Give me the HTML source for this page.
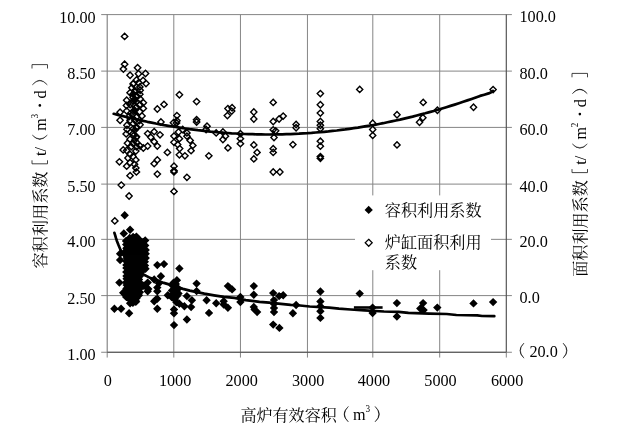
<!DOCTYPE html><html><head><meta charset="utf-8"><title>chart</title><style>html,body{margin:0;padding:0;background:#fff}svg{display:block;will-change:transform;opacity:0.999}</style></head><body><svg width="622" height="432" viewBox="0 0 622 432">
<rect width="622" height="432" fill="#fff"/>
<path d="M173.80 14.60V357.55M240.45 14.60V357.55M307.45 14.60V357.55M372.80 14.60V357.55M439.70 14.60V357.55M107.20 352.25v5.3M506.30 352.25v5.3M101.20 14.60H511.90M101.20 71.10H511.90M101.20 127.40H511.90M101.20 184.10H511.90M101.20 239.35H511.90M101.20 295.60H511.90M101.20 352.25H511.90" stroke="#858585" stroke-width="1" fill="none"/>
<path d="M107.20 14.60V352.25" stroke="#7c7c7c" stroke-width="1.1" fill="none"/>
<path d="M506.30 14.60V352.25M107.20 352.25H506.30" stroke="#505050" stroke-width="1.15" fill="none"/>
<path fill="#fff" stroke="#000" stroke-width="1.4" d="M133.3 80.3L136.5 83.5L133.3 86.7L130.2 83.5ZM138.6 79.6L141.8 82.8L138.6 86.0L135.4 82.8ZM133.2 94.3L136.3 97.5L133.2 100.7L130.0 97.5ZM139.8 91.0L143.0 94.2L139.8 97.4L136.7 94.2ZM133.0 97.6L136.2 100.8L133.0 104.0L129.8 100.8ZM139.9 101.3L143.1 104.5L139.9 107.7L136.8 104.5ZM126.5 102.3L129.7 105.5L126.5 108.7L123.3 105.5ZM133.2 108.0L136.3 111.2L133.2 114.4L130.0 111.2ZM139.6 108.6L142.8 111.8L139.6 115.0L136.4 111.8ZM128.9 113.6L132.1 116.8L128.9 120.0L125.8 116.8ZM139.5 117.4L142.7 120.6L139.5 123.8L136.3 120.6ZM133.3 120.4L136.5 123.6L133.3 126.8L130.2 123.6ZM133.2 125.8L136.3 128.9L133.2 132.1L130.0 128.9ZM140.1 121.5L143.2 124.7L140.1 127.9L136.9 124.7ZM127.0 126.2L130.2 129.3L127.0 132.5L123.8 129.3ZM126.2 130.8L129.3 133.9L126.2 137.1L123.0 133.9ZM136.2 134.3L139.3 137.5L136.2 140.7L133.0 137.5ZM133.0 140.4L136.2 143.6L133.0 146.8L129.8 143.6ZM127.5 140.0L130.7 143.2L127.5 146.3L124.3 143.2ZM133.0 153.3L136.2 156.5L133.0 159.7L129.8 156.5ZM133.2 80.8L136.3 84.0L133.2 87.2L130.0 84.0ZM136.5 84.1L139.7 87.3L136.5 90.5L133.3 87.3ZM134.8 87.4L138.0 90.6L134.8 93.8L131.7 90.6ZM133.2 90.7L136.3 93.9L133.2 97.0L130.0 93.9ZM136.5 94.0L139.7 97.2L136.5 100.3L133.3 97.2ZM134.8 97.3L138.0 100.5L134.8 103.6L131.7 100.5ZM133.2 100.6L136.3 103.8L133.2 106.9L130.0 103.8ZM136.5 103.9L139.7 107.1L136.5 110.2L133.3 107.1ZM134.8 107.2L138.0 110.4L134.8 113.5L131.7 110.4ZM133.2 110.5L136.3 113.7L133.2 116.8L130.0 113.7ZM136.5 113.8L139.7 117.0L136.5 120.1L133.3 117.0ZM134.8 117.1L138.0 120.3L134.8 123.4L131.7 120.3ZM133.2 120.4L136.3 123.6L133.2 126.7L130.0 123.6ZM136.5 123.7L139.7 126.9L136.5 130.0L133.3 126.9ZM134.8 127.0L138.0 130.2L134.8 133.3L131.7 130.2ZM133.2 130.3L136.3 133.5L133.2 136.6L130.0 133.5ZM136.5 133.6L139.7 136.8L136.5 139.9L133.3 136.8ZM134.8 136.9L138.0 140.1L134.8 143.2L131.7 140.1ZM133.2 140.2L136.3 143.4L133.2 146.6L130.0 143.4ZM136.5 143.6L139.7 146.7L136.5 149.9L133.3 146.7ZM124.6 33.2L127.8 36.4L124.6 39.5L121.4 36.4ZM124.6 61.1L127.8 64.3L124.6 67.5L121.4 64.3ZM123.4 65.8L126.6 69.0L123.4 72.2L120.2 69.0ZM137.6 64.5L140.8 67.7L137.6 70.9L134.4 67.7ZM130.1 72.0L133.2 75.2L130.1 78.4L126.9 75.2ZM145.5 70.3L148.7 73.5L145.5 76.7L142.3 73.5ZM138.5 70.6L141.7 73.8L138.5 77.0L135.3 73.8ZM136.5 76.8L139.7 79.9L136.5 83.1L133.3 79.9ZM143.1 77.3L146.2 80.5L143.1 83.7L139.9 80.5ZM146.0 80.3L149.2 83.5L146.0 86.7L142.8 83.5ZM131.8 84.5L135.0 87.7L131.8 90.9L128.7 87.7ZM139.8 83.8L143.0 86.9L139.8 90.1L136.7 86.9ZM140.2 87.0L143.3 90.2L140.2 93.4L137.0 90.2ZM135.5 88.2L138.7 91.4L135.5 94.6L132.3 91.4ZM130.1 89.5L133.2 92.7L130.1 95.9L126.9 92.7ZM136.4 92.6L139.6 95.8L136.4 99.0L133.2 95.8ZM140.2 95.8L143.3 99.0L140.2 102.2L137.0 99.0ZM126.7 97.0L129.8 100.2L126.7 103.4L123.5 100.2ZM136.4 98.9L139.6 102.1L136.4 105.2L133.2 102.1ZM143.3 99.5L146.5 102.7L143.3 105.9L140.2 102.7ZM130.1 101.4L133.2 104.6L130.1 107.8L126.9 104.6ZM135.5 104.6L138.7 107.8L135.5 111.0L132.3 107.8ZM143.3 105.2L146.5 108.4L143.3 111.6L140.2 108.4ZM120.1 109.0L123.2 112.2L120.1 115.4L116.9 112.2ZM126.7 107.8L129.8 110.9L126.7 114.1L123.5 110.9ZM132.4 111.5L135.6 114.7L132.4 117.9L129.2 114.7ZM142.0 112.8L145.2 115.9L142.0 119.1L138.8 115.9ZM136.4 114.0L139.6 117.2L136.4 120.4L133.2 117.2ZM120.1 117.1L123.2 120.3L120.1 123.5L116.9 120.3ZM130.1 117.1L133.2 120.3L130.1 123.5L126.9 120.3ZM157.3 105.8L160.5 109.0L157.3 112.2L154.2 109.0ZM164.0 101.2L167.2 104.4L164.0 107.6L160.8 104.4ZM126.9 122.1L130.1 125.3L126.9 128.4L123.8 125.3ZM136.5 125.0L139.7 128.2L136.5 131.3L133.3 128.2ZM130.7 129.2L133.8 132.3L130.7 135.5L127.5 132.3ZM133.5 132.7L136.7 135.8L133.5 139.0L130.3 135.8ZM130.1 136.0L133.2 139.2L130.1 142.3L126.9 139.2ZM136.4 139.2L139.6 142.3L136.4 145.5L133.2 142.3ZM140.2 142.9L143.3 146.1L140.2 149.2L137.0 146.1ZM131.4 143.5L134.6 146.7L131.4 149.8L128.2 146.7ZM123.2 146.8L126.4 149.9L123.2 153.1L120.0 149.9ZM126.7 147.3L129.8 150.5L126.7 153.7L123.5 150.5ZM135.8 147.9L139.0 151.1L135.8 154.2L132.7 151.1ZM130.1 151.2L133.2 154.3L130.1 157.5L126.9 154.3ZM127.9 154.8L131.1 158.0L127.9 161.2L124.8 158.0ZM135.8 156.8L139.0 159.9L135.8 163.1L132.7 159.9ZM119.4 158.7L122.6 161.8L119.4 165.0L116.2 161.8ZM130.1 159.5L133.2 162.7L130.1 165.8L126.9 162.7ZM126.7 163.0L129.8 166.2L126.7 169.3L123.5 166.2ZM134.5 161.2L137.7 164.3L134.5 167.5L131.3 164.3ZM135.8 164.8L139.0 168.0L135.8 171.2L132.7 168.0ZM147.7 130.4L150.8 133.6L147.7 136.8L144.5 133.6ZM154.2 128.5L157.3 131.7L154.2 134.8L151.0 131.7ZM160.0 131.7L163.2 134.8L160.0 138.0L156.8 134.8ZM150.8 134.2L154.0 137.3L150.8 140.5L147.7 137.3ZM154.2 138.5L157.3 141.7L154.2 144.8L151.0 141.7ZM147.7 142.9L150.8 146.1L147.7 149.2L144.5 146.1ZM157.3 142.9L160.5 146.1L157.3 149.2L154.2 146.1ZM143.3 144.8L146.5 148.0L143.3 151.2L140.2 148.0ZM167.4 149.2L170.6 152.4L167.4 155.6L164.2 152.4ZM157.3 156.8L160.5 159.9L157.3 163.1L154.2 159.9ZM154.2 160.5L157.3 163.7L154.2 166.8L151.0 163.7ZM160.9 118.8L164.1 122.0L160.9 125.2L157.8 122.0ZM174.0 132.9L177.2 136.1L174.0 139.2L170.8 136.1ZM174.0 139.2L177.2 142.3L174.0 145.5L170.8 142.3ZM174.0 163.0L177.2 166.2L174.0 169.3L170.8 166.2ZM176.5 119.8L179.7 123.0L176.5 126.2L173.3 123.0ZM136.4 168.8L139.6 171.9L136.4 175.1L133.2 171.9ZM130.1 172.5L133.2 175.7L130.1 178.8L126.9 175.7ZM121.3 181.9L124.5 185.1L121.3 188.2L118.1 185.1ZM129.1 192.8L132.2 196.0L129.1 199.2L125.9 196.0ZM157.3 170.9L160.5 174.1L157.3 177.2L154.2 174.1ZM174.0 167.5L177.2 170.7L174.0 173.8L170.8 170.7ZM174.0 168.8L177.2 171.9L174.0 175.1L170.8 171.9ZM174.0 188.2L177.2 191.4L174.0 194.6L170.8 191.4ZM179.4 91.5L182.6 94.7L179.4 97.9L176.2 94.7ZM196.6 98.4L199.8 101.6L196.6 104.8L193.4 101.6ZM176.9 112.4L180.1 115.6L176.9 118.8L173.8 115.6ZM176.9 117.6L180.1 120.8L176.9 124.0L173.8 120.8ZM173.5 119.6L176.7 122.8L173.5 126.0L170.3 122.8ZM196.6 116.6L199.8 119.8L196.6 123.0L193.4 119.8ZM196.6 118.8L199.8 122.0L196.6 125.2L193.4 122.0ZM207.0 123.0L210.2 126.2L207.0 129.3L203.8 126.2ZM206.1 126.3L209.2 129.5L206.1 132.7L202.9 129.5ZM227.9 105.4L231.1 108.6L227.9 111.8L224.8 108.6ZM232.1 104.6L235.2 107.8L232.1 111.0L228.9 107.8ZM231.7 107.9L234.8 111.1L231.7 114.2L228.5 111.1ZM227.4 112.4L230.6 115.6L227.4 118.8L224.2 115.6ZM253.8 108.8L256.9 112.0L253.8 115.2L250.7 112.0ZM253.8 115.8L256.9 119.0L253.8 122.2L250.7 119.0ZM216.2 129.8L219.3 132.9L216.2 136.1L213.0 132.9ZM222.9 128.8L226.1 132.0L222.9 135.2L219.8 132.0ZM225.4 133.0L228.6 136.2L225.4 139.3L222.2 136.2ZM222.9 136.3L226.1 139.5L222.9 142.7L219.8 139.5ZM240.4 130.5L243.6 133.7L240.4 136.8L237.2 133.7ZM240.4 135.5L243.6 138.7L240.4 141.8L237.2 138.7ZM240.4 140.5L243.6 143.7L240.4 146.8L237.2 143.7ZM253.8 141.8L256.9 144.9L253.8 148.1L250.7 144.9ZM227.9 144.8L231.1 147.9L227.9 151.1L224.8 147.9ZM178.5 128.8L181.7 132.0L178.5 135.2L175.3 132.0ZM179.4 135.5L182.6 138.7L179.4 141.8L176.2 138.7ZM177.7 141.4L180.8 144.6L177.7 147.8L174.5 144.6ZM186.9 129.8L190.1 132.9L186.9 136.1L183.8 132.9ZM186.9 133.0L190.1 136.2L186.9 139.3L183.8 136.2ZM190.2 137.2L193.3 140.4L190.2 143.6L187.0 140.4ZM192.8 142.2L196.0 145.4L192.8 148.6L189.7 145.4ZM182.7 126.3L185.8 129.5L182.7 132.7L179.5 129.5ZM257.1 149.2L260.2 152.4L257.1 155.6L254.0 152.4ZM253.8 155.8L256.9 158.9L253.8 162.1L250.7 158.9ZM208.8 152.7L212.0 155.8L208.8 159.0L205.7 155.8ZM179.7 145.4L182.8 148.6L179.7 151.8L176.5 148.6ZM191.1 147.5L194.2 150.7L191.1 153.8L187.9 150.7ZM179.4 151.7L182.6 154.8L179.4 158.0L176.2 154.8ZM184.9 152.7L188.1 155.8L184.9 159.0L181.8 155.8ZM186.9 174.2L190.1 177.3L186.9 180.5L183.8 177.3ZM273.2 99.2L276.3 102.4L273.2 105.6L270.1 102.4ZM273.2 118.3L276.3 121.5L273.2 124.7L270.1 121.5ZM279.1 115.8L282.2 119.0L279.1 122.2L276.0 119.0ZM283.2 112.9L286.3 116.1L283.2 119.2L280.1 116.1ZM273.2 126.7L276.3 129.8L273.2 133.0L270.1 129.8ZM275.7 127.7L278.8 130.8L275.7 134.0L272.6 130.8ZM274.0 134.3L277.1 137.5L274.0 140.7L270.9 137.5ZM273.2 145.5L276.3 148.7L273.2 151.8L270.1 148.7ZM296.1 121.3L299.2 124.5L296.1 127.7L293.0 124.5ZM296.1 124.6L299.2 127.8L296.1 130.9L293.0 127.8ZM292.9 141.4L296.0 144.6L292.9 147.8L289.8 144.6ZM320.4 90.4L323.5 93.6L320.4 96.8L317.2 93.6ZM320.4 101.6L323.5 104.8L320.4 108.0L317.2 104.8ZM320.4 109.9L323.5 113.1L320.4 116.2L317.2 113.1ZM320.4 118.3L323.5 121.5L320.4 124.7L317.2 121.5ZM320.4 122.1L323.5 125.3L320.4 128.4L317.2 125.3ZM320.4 125.5L323.5 128.7L320.4 131.8L317.2 128.7ZM320.4 138.0L323.5 141.2L320.4 144.3L317.2 141.2ZM320.4 143.0L323.5 146.2L320.4 149.3L317.2 146.2ZM359.7 86.2L362.8 89.4L359.7 92.6L356.6 89.4ZM273.2 149.2L276.3 152.4L273.2 155.6L270.1 152.4ZM273.2 168.8L276.3 172.0L273.2 175.2L270.1 172.0ZM279.9 168.8L283.0 172.0L279.9 175.2L276.8 172.0ZM320.4 153.4L323.5 156.6L320.4 159.8L317.2 156.6ZM320.4 155.2L323.5 158.3L320.4 161.5L317.2 158.3ZM372.7 120.1L375.8 123.3L372.7 126.5L369.6 123.3ZM372.7 126.3L375.8 129.5L372.7 132.7L369.6 129.5ZM372.7 132.2L375.8 135.4L372.7 138.6L369.6 135.4ZM397.0 111.6L400.1 114.8L397.0 118.0L393.9 114.8ZM397.0 141.8L400.1 144.9L397.0 148.1L393.9 144.9ZM423.2 99.2L426.3 102.4L423.2 105.6L420.1 102.4ZM422.9 114.6L426.0 117.8L422.9 121.0L419.8 117.8ZM419.5 119.1L422.6 122.3L419.5 125.5L416.4 122.3ZM437.4 107.1L440.5 110.3L437.4 113.5L434.2 110.3ZM473.5 104.0L476.6 107.2L473.5 110.4L470.4 107.2ZM493.1 86.4L496.2 89.6L493.1 92.8L490.0 89.6ZM114.8 217.8L118.0 220.9L114.8 224.1L111.6 220.9Z"/>
<path fill="#000" d="M124.7 211.1L128.9 215.3L124.7 219.5L120.5 215.3ZM130.1 225.5L134.3 229.7L130.1 233.9L125.9 229.7ZM123.8 229.3L128.0 233.5L123.8 237.7L119.6 233.5ZM136.4 232.4L140.6 236.6L136.4 240.8L132.2 236.6ZM145.2 236.2L149.4 240.4L145.2 244.6L141.0 240.4ZM145.2 241.2L149.4 245.4L145.2 249.6L141.0 245.4ZM120.1 249.6L124.3 253.8L120.1 258.0L115.9 253.8ZM120.1 255.8L124.3 260.0L120.1 264.2L115.9 260.0ZM119.4 278.4L123.6 282.6L119.4 286.8L115.2 282.6ZM123.2 288.5L127.4 292.7L123.2 296.9L119.0 292.7ZM157.3 260.9L161.5 265.1L157.3 269.3L153.1 265.1ZM164.0 259.9L168.2 264.1L164.0 268.3L159.8 264.1ZM160.9 272.1L165.1 276.3L160.9 280.5L156.7 276.3ZM154.2 275.3L158.4 279.5L154.2 283.7L150.0 279.5ZM147.7 278.4L151.9 282.6L147.7 286.8L143.5 282.6ZM143.9 281.6L148.1 285.8L143.9 290.0L139.7 285.8ZM148.3 284.7L152.5 288.9L148.3 293.1L144.1 288.9ZM157.3 283.4L161.5 287.6L157.3 291.8L153.1 287.6ZM159.0 279.0L163.2 283.2L159.0 287.4L154.8 283.2ZM167.8 291.0L172.0 295.2L167.8 299.4L163.6 295.2ZM155.8 295.4L160.0 299.6L155.8 303.8L151.6 299.6ZM114.4 304.6L118.6 308.8L114.4 313.0L110.2 308.8ZM121.1 304.6L125.3 308.8L121.1 313.0L116.9 308.8ZM129.1 309.0L133.3 313.2L129.1 317.4L124.9 313.2ZM130.1 299.0L134.3 303.2L130.1 307.4L125.9 303.2ZM135.8 297.7L140.0 301.9L135.8 306.1L131.6 301.9ZM132.6 293.3L136.8 297.5L132.6 301.7L128.4 297.5ZM136.4 290.8L140.6 295.0L136.4 299.2L132.2 295.0ZM147.7 287.1L151.9 291.3L147.7 295.5L143.5 291.3ZM157.3 287.1L161.5 291.3L157.3 295.5L153.1 291.3ZM157.3 294.6L161.5 298.8L157.3 303.0L153.1 298.8ZM154.2 297.1L158.4 301.3L154.2 305.5L150.0 301.3ZM157.3 304.6L161.5 308.8L157.3 313.0L153.1 308.8ZM174.0 305.2L178.2 309.4L174.0 313.6L169.8 309.4ZM174.0 309.0L178.2 313.2L174.0 317.4L169.8 313.2ZM174.0 320.9L178.2 325.1L174.0 329.3L169.8 325.1ZM179.4 264.3L183.6 268.5L179.4 272.7L175.2 268.5ZM176.9 276.0L181.1 280.2L176.9 284.4L172.7 280.2ZM173.5 278.6L177.7 282.8L173.5 287.0L169.3 282.8ZM196.6 279.4L200.8 283.6L196.6 287.8L192.4 283.6ZM175.0 282.8L179.2 287.0L175.0 291.2L170.8 287.0ZM177.0 285.8L181.2 290.0L177.0 294.2L172.8 290.0ZM174.0 288.8L178.2 293.0L174.0 297.2L169.8 293.0ZM177.0 291.8L181.2 296.0L177.0 300.2L172.8 296.0ZM175.0 294.8L179.2 299.0L175.0 303.2L170.8 299.0ZM196.6 286.9L200.8 291.1L196.6 295.3L192.4 291.1ZM186.9 291.9L191.1 296.1L186.9 300.3L182.7 296.1ZM191.9 296.1L196.1 300.3L191.9 304.5L187.7 300.3ZM206.6 296.1L210.8 300.3L206.6 304.5L202.4 300.3ZM216.2 299.1L220.4 303.3L216.2 307.5L212.0 303.3ZM227.9 281.9L232.1 286.1L227.9 290.3L223.7 286.1ZM232.1 285.2L236.3 289.4L232.1 293.6L227.9 289.4ZM229.5 283.3L233.7 287.5L229.5 291.7L225.3 287.5ZM223.7 297.0L227.9 301.2L223.7 305.4L219.5 301.2ZM223.7 300.3L227.9 304.5L223.7 308.7L219.5 304.5ZM227.9 303.6L232.1 307.8L227.9 312.0L223.7 307.8ZM240.4 292.8L244.6 297.0L240.4 301.2L236.2 297.0ZM240.4 297.8L244.6 302.0L240.4 306.2L236.2 302.0ZM253.8 281.9L258.0 286.1L253.8 290.3L249.6 286.1ZM253.8 290.6L258.0 294.8L253.8 299.0L249.6 294.8ZM253.8 302.8L258.0 307.0L253.8 311.2L249.6 307.0ZM257.1 307.8L261.3 312.0L257.1 316.2L252.9 312.0ZM254.6 305.3L258.8 309.5L254.6 313.7L250.4 309.5ZM209.0 308.7L213.2 312.9L209.0 317.1L204.8 312.9ZM186.9 315.3L191.1 319.5L186.9 323.7L182.7 319.5ZM184.4 302.0L188.6 306.2L184.4 310.4L180.2 306.2ZM191.1 302.8L195.3 307.0L191.1 311.2L186.9 307.0ZM179.4 299.5L183.6 303.7L179.4 307.9L175.2 303.7ZM273.2 288.9L277.4 293.1L273.2 297.3L269.0 293.1ZM279.1 291.9L283.3 296.1L279.1 300.3L274.9 296.1ZM283.2 291.1L287.4 295.3L283.2 299.5L279.0 295.3ZM274.0 295.8L278.2 300.0L274.0 304.2L269.8 300.0ZM274.0 299.8L278.2 304.0L274.0 308.2L269.8 304.0ZM274.0 303.8L278.2 308.0L274.0 312.2L269.8 308.0ZM274.0 307.8L278.2 312.0L274.0 316.2L269.8 312.0ZM296.1 300.8L300.3 305.0L296.1 309.2L291.9 305.0ZM292.9 309.0L297.1 313.2L292.9 317.4L288.7 313.2ZM273.2 320.4L277.4 324.6L273.2 328.8L269.0 324.6ZM279.4 323.7L283.6 327.9L279.4 332.1L275.2 327.9ZM320.4 287.3L324.6 291.5L320.4 295.7L316.2 291.5ZM320.4 297.3L324.6 301.5L320.4 305.7L316.2 301.5ZM320.4 302.0L324.6 306.2L320.4 310.4L316.2 306.2ZM320.4 307.0L324.6 311.2L320.4 315.4L316.2 311.2ZM320.4 313.7L324.6 317.9L320.4 322.1L316.2 317.9ZM359.7 289.4L363.9 293.6L359.7 297.8L355.5 293.6ZM372.6 303.4L376.8 307.6L372.6 311.8L368.4 307.6ZM372.6 308.9L376.8 313.1L372.6 317.3L368.4 313.1ZM396.9 298.9L401.1 303.1L396.9 307.3L392.7 303.1ZM396.9 312.3L401.1 316.5L396.9 320.7L392.7 316.5ZM423.1 298.9L427.3 303.1L423.1 307.3L418.9 303.1ZM420.3 304.3L424.5 308.5L420.3 312.7L416.1 308.5ZM423.6 305.9L427.8 310.1L423.6 314.3L419.4 310.1ZM437.3 303.4L441.5 307.6L437.3 311.8L433.1 307.6ZM473.5 299.2L477.7 303.4L473.5 307.6L469.3 303.4ZM493.1 297.9L497.3 302.1L493.1 306.3L488.9 302.1ZM126.0 236.8L130.2 241.0L126.0 245.2L121.8 241.0ZM126.2 240.4L130.4 244.6L126.2 248.8L122.0 244.6ZM126.4 244.1L130.6 248.3L126.4 252.5L122.2 248.3ZM125.8 246.8L130.0 251.0L125.8 255.2L121.6 251.0ZM126.1 250.9L130.3 255.1L126.1 259.3L121.9 255.1ZM126.8 253.9L131.0 258.1L126.8 262.3L122.6 258.1ZM126.6 257.4L130.8 261.6L126.6 265.8L122.4 261.6ZM126.4 260.8L130.6 265.0L126.4 269.2L122.2 265.0ZM126.4 263.7L130.6 267.9L126.4 272.1L122.2 267.9ZM126.3 267.9L130.5 272.1L126.3 276.3L122.1 272.1ZM126.5 271.8L130.7 276.0L126.5 280.2L122.3 276.0ZM126.6 274.5L130.8 278.7L126.6 282.9L122.4 278.7ZM126.1 278.2L130.3 282.4L126.1 286.6L121.9 282.4ZM126.7 280.8L130.9 285.0L126.7 289.2L122.5 285.0ZM126.5 284.3L130.7 288.5L126.5 292.7L122.3 288.5ZM126.5 288.5L130.7 292.7L126.5 296.9L122.3 292.7ZM126.2 292.7L130.4 296.9L126.2 301.1L122.0 296.9ZM129.7 233.8L133.9 238.0L129.7 242.2L125.5 238.0ZM130.2 238.1L134.4 242.3L130.2 246.5L126.0 242.3ZM129.4 240.9L133.6 245.1L129.4 249.3L125.2 245.1ZM130.3 243.9L134.5 248.1L130.3 252.3L126.1 248.1ZM129.9 247.2L134.1 251.4L129.9 255.6L125.7 251.4ZM129.8 250.4L134.0 254.6L129.8 258.8L125.6 254.6ZM129.7 253.7L133.9 257.9L129.7 262.1L125.5 257.9ZM129.9 257.3L134.1 261.5L129.9 265.7L125.7 261.5ZM130.0 261.6L134.2 265.8L130.0 270.0L125.8 265.8ZM130.2 265.8L134.4 270.0L130.2 274.2L126.0 270.0ZM130.0 270.2L134.2 274.4L130.0 278.6L125.8 274.4ZM130.2 273.1L134.4 277.3L130.2 281.5L126.0 277.3ZM130.2 277.4L134.4 281.6L130.2 285.8L126.0 281.6ZM130.0 281.1L134.2 285.3L130.0 289.5L125.8 285.3ZM130.1 284.0L134.3 288.2L130.1 292.4L125.9 288.2ZM129.6 287.7L133.8 291.9L129.6 296.1L125.4 291.9ZM130.2 290.4L134.4 294.6L130.2 298.8L126.0 294.6ZM129.4 294.8L133.6 299.0L129.4 303.2L125.2 299.0ZM133.1 232.8L137.3 237.0L133.1 241.2L128.9 237.0ZM133.0 235.7L137.2 239.9L133.0 244.1L128.8 239.9ZM133.6 239.7L137.8 243.9L133.6 248.1L129.4 243.9ZM133.3 242.3L137.5 246.5L133.3 250.7L129.1 246.5ZM133.4 245.0L137.6 249.2L133.4 253.4L129.2 249.2ZM133.6 248.2L137.8 252.4L133.6 256.6L129.4 252.4ZM133.2 252.6L137.4 256.8L133.2 261.0L129.0 256.8ZM133.0 257.0L137.2 261.2L133.0 265.4L128.8 261.2ZM133.3 259.7L137.5 263.9L133.3 268.1L129.1 263.9ZM132.9 262.4L137.1 266.6L132.9 270.8L128.7 266.6ZM133.3 265.7L137.5 269.9L133.3 274.1L129.1 269.9ZM132.7 268.6L136.9 272.8L132.7 277.0L128.5 272.8ZM133.0 272.7L137.2 276.9L133.0 281.1L128.8 276.9ZM133.6 277.1L137.8 281.3L133.6 285.5L129.4 281.3ZM133.2 280.4L137.4 284.6L133.2 288.8L129.0 284.6ZM133.3 283.9L137.5 288.1L133.3 292.3L129.1 288.1ZM133.3 287.6L137.5 291.8L133.3 296.0L129.1 291.8ZM133.6 291.3L137.8 295.5L133.6 299.7L129.4 295.5ZM133.1 294.8L137.3 299.0L133.1 303.2L128.9 299.0ZM132.9 298.7L137.1 302.9L132.9 307.1L128.7 302.9ZM136.9 233.8L141.1 238.0L136.9 242.2L132.7 238.0ZM136.4 237.3L140.6 241.5L136.4 245.7L132.2 241.5ZM136.3 240.0L140.5 244.2L136.3 248.4L132.1 244.2ZM135.9 243.6L140.1 247.8L135.9 252.0L131.7 247.8ZM136.5 247.3L140.7 251.5L136.5 255.7L132.3 251.5ZM136.5 250.0L140.7 254.2L136.5 258.4L132.3 254.2ZM136.6 253.5L140.8 257.7L136.6 261.9L132.4 257.7ZM136.6 256.7L140.8 260.9L136.6 265.1L132.4 260.9ZM135.9 260.6L140.1 264.8L135.9 269.0L131.7 264.8ZM136.6 263.3L140.8 267.5L136.6 271.7L132.4 267.5ZM136.2 267.7L140.4 271.9L136.2 276.1L132.0 271.9ZM136.5 271.1L140.7 275.3L136.5 279.5L132.3 275.3ZM136.3 274.3L140.5 278.5L136.3 282.7L132.1 278.5ZM136.3 277.4L140.5 281.6L136.3 285.8L132.1 281.6ZM136.2 281.1L140.4 285.3L136.2 289.5L132.0 285.3ZM136.7 284.4L140.9 288.6L136.7 292.8L132.5 288.6ZM136.5 287.0L140.7 291.2L136.5 295.4L132.3 291.2ZM136.2 290.9L140.4 295.1L136.2 299.3L132.0 295.1ZM136.7 293.9L140.9 298.1L136.7 302.3L132.5 298.1ZM136.1 297.0L140.3 301.2L136.1 305.4L131.9 301.2ZM139.6 235.8L143.8 240.0L139.6 244.2L135.4 240.0ZM139.2 238.6L143.4 242.8L139.2 247.0L135.0 242.8ZM139.7 241.8L143.9 246.0L139.7 250.2L135.5 246.0ZM139.8 245.2L144.0 249.4L139.8 253.6L135.6 249.4ZM139.2 248.1L143.4 252.3L139.2 256.5L135.0 252.3ZM139.8 251.8L144.0 256.0L139.8 260.2L135.6 256.0ZM139.1 255.3L143.3 259.5L139.1 263.7L134.9 259.5ZM139.4 258.1L143.6 262.3L139.4 266.5L135.2 262.3ZM139.7 261.0L143.9 265.2L139.7 269.4L135.5 265.2ZM139.1 265.1L143.3 269.3L139.1 273.5L134.9 269.3ZM139.7 268.2L143.9 272.4L139.7 276.6L135.5 272.4ZM139.7 272.0L143.9 276.2L139.7 280.4L135.5 276.2ZM139.0 275.2L143.2 279.4L139.0 283.6L134.8 279.4ZM139.7 278.3L143.9 282.5L139.7 286.7L135.5 282.5ZM139.2 281.4L143.4 285.6L139.2 289.8L135.0 285.6ZM139.3 284.8L143.5 289.0L139.3 293.2L135.1 289.0ZM139.8 288.1L144.0 292.3L139.8 296.5L135.6 292.3ZM138.9 291.0L143.1 295.2L138.9 299.4L134.7 295.2ZM143.0 237.8L147.2 242.0L143.0 246.2L138.8 242.0ZM142.5 242.2L146.7 246.4L142.5 250.6L138.3 246.4ZM143.0 246.5L147.2 250.7L143.0 254.9L138.8 250.7ZM142.8 249.5L147.0 253.7L142.8 257.9L138.6 253.7ZM142.8 253.6L147.0 257.8L142.8 262.0L138.6 257.8ZM142.4 257.1L146.6 261.3L142.4 265.5L138.2 261.3ZM142.3 260.3L146.5 264.5L142.3 268.7L138.1 264.5ZM142.7 263.1L146.9 267.3L142.7 271.5L138.5 267.3ZM142.9 266.2L147.1 270.4L142.9 274.6L138.7 270.4ZM145.7 245.8L149.9 250.0L145.7 254.2L141.5 250.0ZM145.7 249.6L149.9 253.8L145.7 258.0L141.5 253.8ZM145.7 253.9L149.9 258.1L145.7 262.3L141.5 258.1ZM144.8 257.5L149.0 261.7L144.8 265.9L140.6 261.7ZM145.0 261.4L149.2 265.6L145.0 269.8L140.8 265.6ZM145.5 264.6L149.7 268.8L145.5 273.0L141.3 268.8ZM172.5 281.3L176.7 285.5L172.5 289.7L168.3 285.5ZM175.8 279.8L180.0 284.0L175.8 288.2L171.6 284.0ZM178.2 284.3L182.4 288.5L178.2 292.7L174.0 288.5ZM172.0 286.3L176.2 290.5L172.0 294.7L167.8 290.5ZM176.2 297.8L180.4 302.0L176.2 306.2L172.0 302.0ZM171.6 292.8L175.8 297.0L171.6 301.2L167.4 297.0ZM178.5 289.3L182.7 293.5L178.5 297.7L174.3 293.5Z"/>
<path d="M113.7 113.8L117.9 114.9L122.1 115.9L126.3 117.0L130.5 118.0L134.8 119.0L139.0 120.0L143.2 120.9L147.4 121.8L151.6 122.6L155.8 123.5L160.0 124.3L164.2 125.1L168.4 125.8L172.6 126.5L176.9 127.2L181.1 127.9L185.3 128.5L189.5 129.1L193.7 129.6L197.9 130.2L202.1 130.7L206.3 131.1L210.5 131.6L214.7 132.0L219.0 132.3L223.2 132.7L227.4 133.0L231.6 133.3L235.8 133.5L240.0 133.8L244.2 134.0L248.4 134.1L252.6 134.2L256.9 134.3L261.1 134.4L265.3 134.5L269.5 134.5L273.7 134.4L277.9 134.4L282.1 134.3L286.3 134.2L290.5 134.1L294.7 133.9L299.0 133.7L303.2 133.4L307.4 133.2L311.6 132.9L315.8 132.5L320.0 132.2L324.2 131.8L328.4 131.4L332.6 130.9L336.8 130.5L341.1 129.9L345.3 129.4L349.5 128.8L353.7 128.2L357.9 127.6L362.1 126.9L366.3 126.2L370.5 125.5L374.7 124.8L379.0 124.0L383.2 123.2L387.4 122.3L391.6 121.4L395.8 120.5L400.0 119.6L404.2 118.6L408.4 117.6L412.6 116.6L416.8 115.5L421.1 114.4L425.3 113.3L429.5 112.1L433.7 111.0L437.9 109.7L442.1 108.5L446.3 107.2L450.5 105.9L454.7 104.6L458.9 103.2L463.2 101.8L467.4 100.4L471.6 98.9L475.8 97.4L480.0 95.9L484.3 94.7L488.6 93.4L491.2 92.3L493.0 90.9" fill="none" stroke="#000" stroke-width="2.7" stroke-linejoin="round" stroke-linecap="round"/>
<path d="M114.4 232.8L115.2 235.4L116.0 238.2L116.8 240.7L117.7 243.0L118.5 245.1L119.3 247.0L120.1 248.8L120.9 250.4L121.7 251.9L122.5 253.4L123.4 254.7L124.2 256.0L125.0 257.1L125.8 258.3L126.6 259.3L127.4 260.4L128.2 261.3L129.0 262.3L129.9 263.1L130.7 264.0L131.5 264.8L132.3 265.6L133.1 266.3L133.9 267.1L134.7 267.8L135.6 268.4L136.4 269.1L137.2 269.7L138.0 270.3L140.9 273.3L149.2 277.4L163.8 282.9L170.6 284.9L182.9 288.9L189.7 290.6L204.3 293.6L214.0 295.3L223.8 296.8L234.5 297.9L245.8 300.1L259.5 301.8L269.2 302.7L280.9 303.8L290.6 304.8L300.0 305.5L309.7 306.5L329.2 307.7L338.9 308.7L350.6 309.5L364.6 310.3L384.0 311.5L398.6 311.9L408.4 312.8L429.2 313.6L446.7 314.0L456.4 315.0L477.2 315.3L482.1 316.0L494.3 316.2" fill="none" stroke="#000" stroke-width="2.7" stroke-linejoin="round" stroke-linecap="round"/>
<path d="M353.9 307.5H382.6" stroke="#000" stroke-width="2.6"/>
<rect x="355" y="195.4" width="136" height="74.8" fill="#fff"/>
<path fill="#000" d="M368.7 205.8L372.8 209.9L368.7 214.0L364.6 209.9Z"/>
<path fill="#fff" stroke="#000" stroke-width="1.25" d="M368.7 239.3L372.2 242.8L368.7 246.3L365.2 242.8Z"/>
<g fill="#000" font-family="'Liberation Serif', 'Noto Serif CJK SC', serif">
<text x="384.8" y="215.6" font-size="16.15">容积利用系数</text>
<text x="384.8" y="248.4" font-size="16.15">炉缸面积利用</text>
<text x="384.8" y="267.6" font-size="16.15">系数</text>
<text x="240.5" y="420.9" font-size="16.05">高炉有效容积</text>
</g>
<g font-family="Liberation Serif, serif" font-size="16.2" fill="#000" opacity="0.99">
<text x="95.7" y="22.6" text-anchor="end">10.00</text>
<text x="95.7" y="79.0" text-anchor="end">8.50</text>
<text x="95.7" y="135.3" text-anchor="end">7.00</text>
<text x="95.7" y="192.0" text-anchor="end">5.50</text>
<text x="95.7" y="247.3" text-anchor="end">4.00</text>
<text x="95.7" y="303.6" text-anchor="end">2.50</text>
<text x="95.7" y="360.2" text-anchor="end">1.00</text>
<text x="519.5" y="22.4">100.0</text>
<text x="519.5" y="78.9">80.0</text>
<text x="519.5" y="135.2">60.0</text>
<text x="519.5" y="191.9">40.0</text>
<text x="519.5" y="247.2">20.0</text>
<text x="519.5" y="303.4">0.0</text>
<text x="529.4" y="356.6">20.0</text>
<text x="107.8" y="386.3" text-anchor="middle">0</text>
<text x="175.1" y="386.3" text-anchor="middle">1000</text>
<text x="241.7" y="386.3" text-anchor="middle">2000</text>
<text x="308.2" y="386.3" text-anchor="middle">3000</text>
<text x="373.9" y="386.3" text-anchor="middle">4000</text>
<text x="440.5" y="386.3" text-anchor="middle">5000</text>
<text x="507.1" y="386.3" text-anchor="middle">6000</text>
<text x="353.0" y="420.4">m</text>
<text x="365.6" y="412.2" font-size="10.5" textLength="4.6" lengthAdjust="spacingAndGlyphs">3</text>
</g>
<path d="M348.40 406.40Q339.60 414.15 348.40 421.90Q340.70 414.15 348.40 406.40Z" fill="#000" stroke="#000" stroke-width="0.38" stroke-linejoin="round"/>
<path d="M375.00 406.40Q383.80 414.15 375.00 421.90Q382.70 414.15 375.00 406.40Z" fill="#000" stroke="#000" stroke-width="0.38" stroke-linejoin="round"/>
<path d="M524.00 343.00Q515.80 350.60 524.00 358.20Q516.90 350.60 524.00 343.00Z" fill="#000" stroke="#000" stroke-width="0.38" stroke-linejoin="round"/>
<path d="M563.00 343.00Q571.20 350.60 563.00 358.20Q570.10 350.60 563.00 343.00Z" fill="#000" stroke="#000" stroke-width="0.38" stroke-linejoin="round"/>
<g transform="translate(46.2 268.6) rotate(-90)"><g fill="#000"><text x="0" y="-0.7" font-size="16.2" font-family="'Liberation Serif', 'Noto Serif CJK SC', serif">容积利用系数</text></g><path d="M108.3 -14.2H104.8V1.3H108.3" fill="none" stroke="#222" stroke-width="0.85"/><g font-family="Liberation Serif, serif" font-size="16.2" fill="#000"><text x="112.7" y="0">t/</text><text x="137.9" y="0">m</text><text x="150.1" y="-8.0" font-size="10.5" textLength="4.6" lengthAdjust="spacingAndGlyphs">3</text><text x="170.2" y="0">d</text></g><circle cx="163.2" cy="-6.35" r="1.3" fill="#000"/><path d="M133.50 -13.90Q124.90 -6.40 133.50 1.10Q126.00 -6.40 133.50 -13.90Z" fill="#000" stroke="#000" stroke-width="0.38" stroke-linejoin="round"/><path d="M183.75 -13.90Q192.85 -6.40 183.75 1.10Q191.75 -6.40 183.75 -13.90Z" fill="#000" stroke="#000" stroke-width="0.38" stroke-linejoin="round"/><path d="M200.1 -14.2H204.0V1.3H200.1" fill="none" stroke="#222" stroke-width="0.85"/></g>
<g transform="translate(586.2 276.8) rotate(-90)"><g fill="#000"><text x="0" y="-0.7" font-size="16.1" font-family="'Liberation Serif', 'Noto Serif CJK SC', serif">面积利用系数</text></g><path d="M107.7 -14.2H104.2V1.3H107.7" fill="none" stroke="#222" stroke-width="0.85"/><g font-family="Liberation Serif, serif" font-size="16.2" fill="#000"><text x="112.1" y="0">t/</text><text x="137.4" y="0">m</text><text x="149.5" y="-8.0" font-size="10.5" textLength="4.6" lengthAdjust="spacingAndGlyphs">2</text><text x="169.6" y="0">d</text></g><circle cx="162.7" cy="-6.35" r="1.3" fill="#000"/><path d="M132.90 -13.90Q124.30 -6.40 132.90 1.10Q125.40 -6.40 132.90 -13.90Z" fill="#000" stroke="#000" stroke-width="0.38" stroke-linejoin="round"/><path d="M183.15 -13.90Q192.25 -6.40 183.15 1.10Q191.15 -6.40 183.15 -13.90Z" fill="#000" stroke="#000" stroke-width="0.38" stroke-linejoin="round"/><path d="M199.5 -14.2H203.4V1.3H199.5" fill="none" stroke="#222" stroke-width="0.85"/></g>
</svg></body></html>
